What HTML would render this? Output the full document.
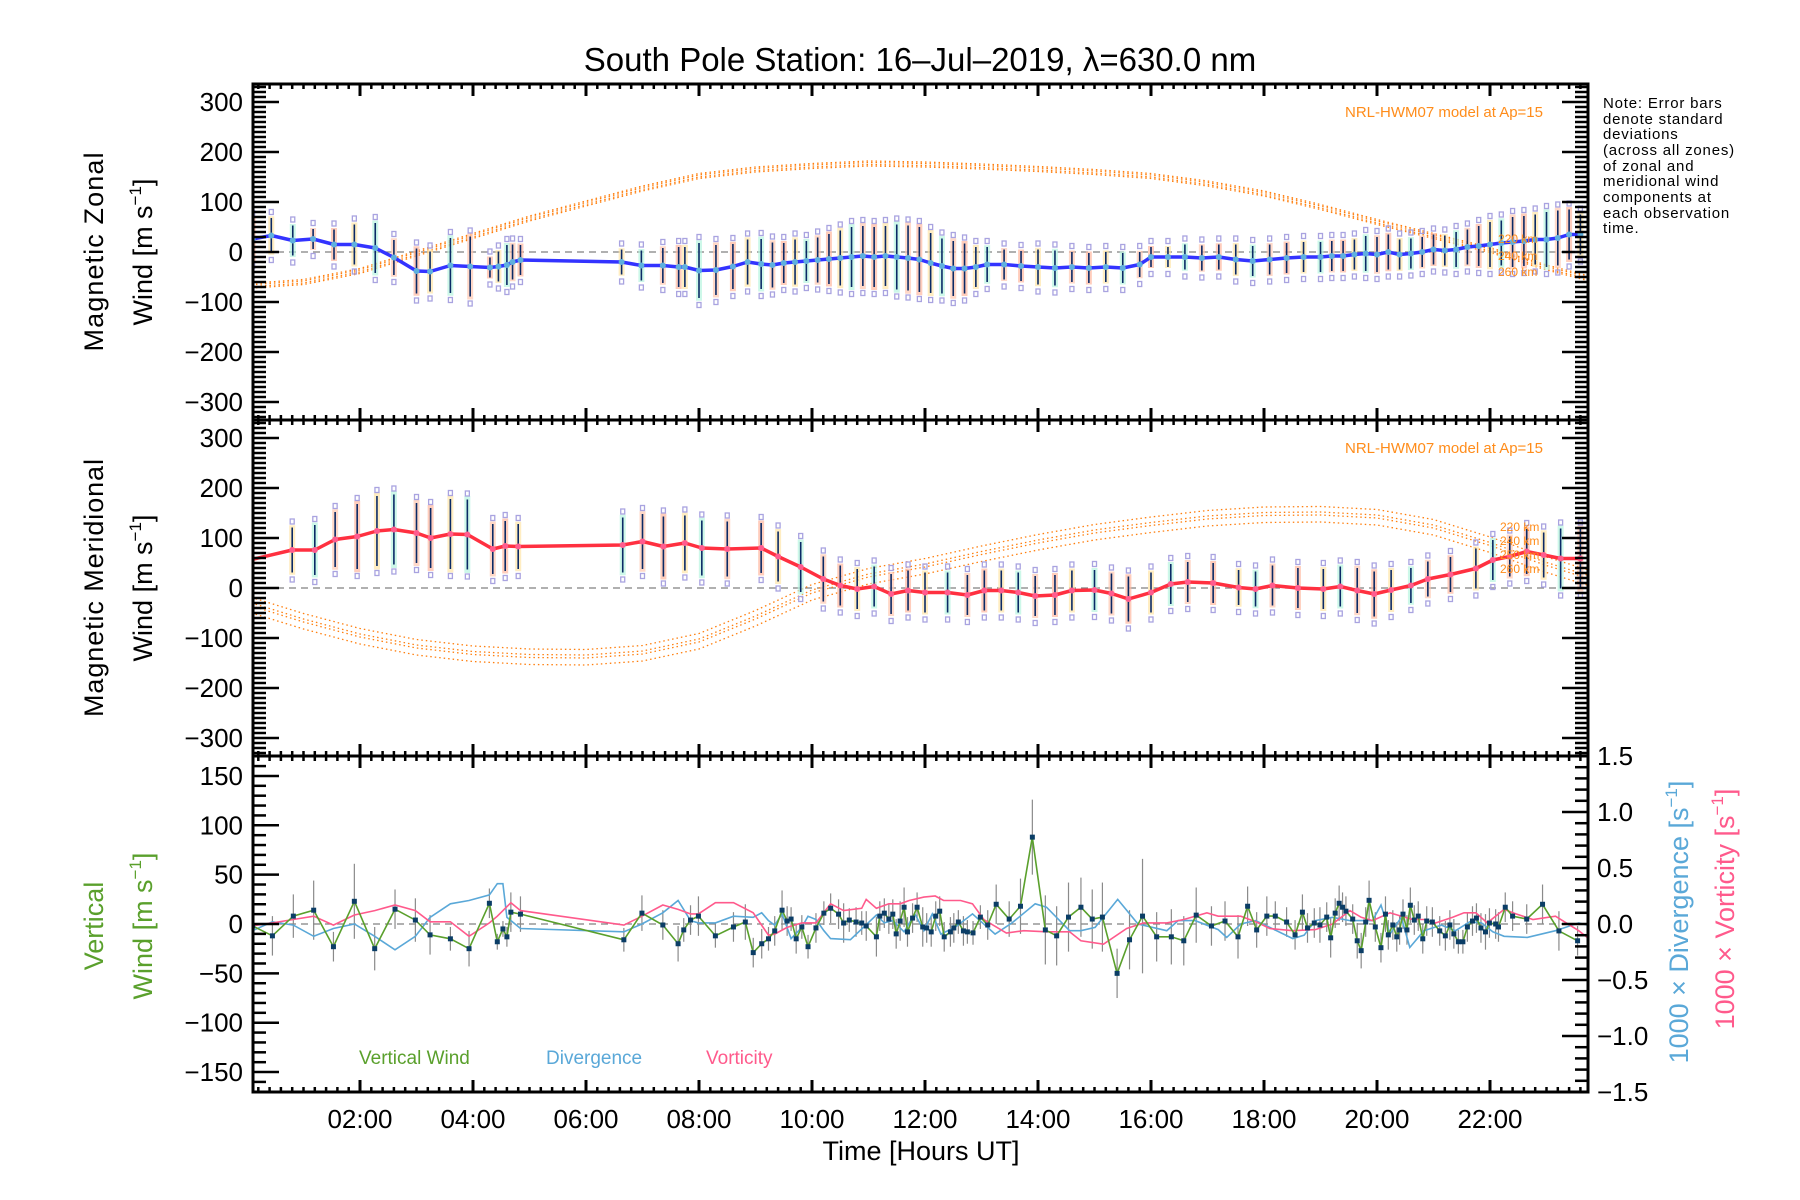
<!DOCTYPE html>
<html><head><meta charset="utf-8"><title>South Pole Station winds</title>
<style>
html,body{margin:0;padding:0;background:#fff;}
svg{display:block;font-family:"Liberation Sans",sans-serif;}
</style></head>
<body>
<svg id="chart" width="1800" height="1200" viewBox="0 0 1800 1200" xmlns="http://www.w3.org/2000/svg">
<rect x="0" y="0" width="1800" height="1200" fill="#fff"/>
<text x="920" y="71" font-size="33" text-anchor="middle" fill="#000">South Pole Station: 16–Jul–2019, λ=630.0 nm</text>

<g id="p1"></g>
<g id="p2"></g>
<g id="p3"></g>
<g id="axes"></g>

<text transform="translate(103,252) rotate(-90)" font-size="27" text-anchor="middle" textLength="199" lengthAdjust="spacing">Magnetic Zonal</text>
<text transform="translate(152,252) rotate(-90)" font-size="27" text-anchor="middle">Wind [m s<tspan font-size="17" dy="-11">−1</tspan><tspan dy="11">]</tspan></text>
<text transform="translate(103,588) rotate(-90)" font-size="27" text-anchor="middle" textLength="258" lengthAdjust="spacing">Magnetic Meridional</text>
<text transform="translate(152,588) rotate(-90)" font-size="27" text-anchor="middle">Wind [m s<tspan font-size="17" dy="-11">−1</tspan><tspan dy="11">]</tspan></text>
<text transform="translate(103,926) rotate(-90)" font-size="27" text-anchor="middle" fill="#5aa02c">Vertical</text>
<text transform="translate(152,926) rotate(-90)" font-size="27" text-anchor="middle" fill="#5aa02c">Wind [m s<tspan font-size="17" dy="-11">−1</tspan><tspan dy="11">]</tspan></text>
<text transform="translate(1688,922) rotate(-90)" font-size="27" text-anchor="middle" fill="#5aa8d8">1000 × Divergence [s<tspan font-size="17" dy="-11">−1</tspan><tspan dy="11">]</tspan></text>
<text transform="translate(1734,909) rotate(-90)" font-size="27" text-anchor="middle" fill="#ff5a8c">1000 × Vorticity [s<tspan font-size="17" dy="-11">−1</tspan><tspan dy="11">]</tspan></text>
<text x="921" y="1160" font-size="27" text-anchor="middle">Time [Hours UT]</text>

<text x="1543" y="117" font-size="15" text-anchor="end" fill="#ff8c1a">NRL-HWM07 model at Ap=15</text>
<text x="1543" y="453" font-size="15" text-anchor="end" fill="#ff8c1a">NRL-HWM07 model at Ap=15</text>
<g font-size="12" fill="#ff8c1a">
<text x="1498" y="243">220 km</text><text x="1498" y="260">240 km</text><text x="1498" y="276">260 km</text></g>
<g font-size="12" fill="#ff8c1a">
<text x="1500" y="531">220 km</text><text x="1500" y="545">240 km</text><text x="1500" y="559">250 km</text><text x="1500" y="573">260 km</text></g>

<g font-size="15" letter-spacing="0.8" fill="#000">
<text x="1603" y="108">Note: Error bars</text>
<text x="1603" y="124">denote standard</text>
<text x="1603" y="139">deviations</text>
<text x="1603" y="155">(across all zones)</text>
<text x="1603" y="171">of zonal and</text>
<text x="1603" y="186">meridional wind</text>
<text x="1603" y="202">components at</text>
<text x="1603" y="218">each observation</text>
<text x="1603" y="233">time.</text>
</g>

<text x="359" y="1064" font-size="19" fill="#5aa02c">Vertical Wind</text>
<text x="546" y="1064" font-size="19" fill="#5aa8d8">Divergence</text>
<text x="706" y="1064" font-size="19" fill="#ff5a8c">Vorticity</text>
</svg>
<script>
// ---------- data ----------
const X_TICK_HOURS = [2,4,6,8,10,12,14,16,18,20,22];
const X_TICK_LABELS = ["02:00","04:00","06:00","08:00","10:00","12:00","14:00","16:00","18:00","20:00","22:00"];
const WIND_TICKS = [300,200,100,0,-100,-200,-300];
const VERT_TICKS = [150,100,50,0,-50,-100,-150];
const DIV_TICKS = [1.5,1.0,0.5,0.0,-0.5,-1.0,-1.5];
const DIV_TICK_LABELS = ["1.5","1.0","0.5","0.0","−0.5","−1.0","−1.5"];

const ZONAL_T = [0.10,0.43,0.81,1.17,1.54,1.90,2.27,2.60,3.00,3.24,
 3.60,3.95,4.30,4.45,4.60,4.70,4.84,6.63,6.98,7.36,
 7.64,7.75,8.00,8.30,8.60,8.86,9.10,9.30,9.50,9.70,
 9.90,10.1,10.3,10.5,10.7,10.9,11.1,11.3,11.5,11.7,
 11.9,12.1,12.3,12.5,12.7,12.9,13.1,13.4,13.7,14.0,
 14.3,14.6,14.9,15.2,15.5,15.8,16.0,16.3,16.6,16.9,
 17.2,17.5,17.8,18.1,18.4,18.7,19.0,19.2,19.4,19.6,
 19.8,20.0,20.2,20.4,20.6,20.8,21.0,21.2,21.4,21.6,
 21.8,22.0,22.2,22.4,22.6,22.8,23.0,23.2,23.4,23.6];
const ZONAL_V = [26,33,23,26,15,15,8,-11,-38,-39,
 -27,-29,-31,-29,-26,-20,-16,-20,-27,-27,
 -30,-30,-37,-36,-29,-20,-24,-26,-22,-20,
 -18,-16,-14,-12,-10,-8,-10,-8,-10,-12,
 -15,-22,-28,-33,-33,-30,-25,-25,-28,-30,
 -32,-30,-32,-30,-32,-25,-10,-10,-10,-12,
 -10,-15,-18,-15,-12,-10,-10,-8,-8,-5,
 -3,-5,0,-5,-3,0,5,3,5,10,
 12,15,18,20,22,25,25,28,35,35];
const ZONAL_E = [40,35,30,20,30,40,50,35,45,40,
 55,60,20,30,40,35,30,25,30,35,
 40,40,55,50,45,45,50,45,40,45,
 40,45,50,55,60,60,60,60,65,65,
 65,60,55,55,50,40,35,30,30,35,
 35,30,30,30,30,25,20,20,25,25,
 25,30,30,30,30,30,30,30,30,30,
 35,35,35,30,30,30,30,30,35,35,
 40,45,45,50,50,50,55,55,50,40];

const MERID_T = [0.05,0.80,1.20,1.56,1.95,2.30,2.60,3.00,3.25,3.60,
 3.90,4.35,4.57,4.80,6.65,7.00,7.37,7.75,8.05,
 8.50,9.10,9.40,9.80,10.2,10.5,10.8,11.1,11.4,11.7,
 12.0,12.4,12.75,13.05,13.35,13.65,13.95,14.3,14.6,15.0,
 15.3,15.6,16.0,16.35,16.65,17.1,17.55,17.85,18.15,18.6,
 19.05,19.35,19.65,19.95,20.25,20.6,20.9,21.3,21.75,22.05,
 22.35,22.65,22.95,23.25,23.6];
const MERID_V = [56,76,76,97,103,114,117,110,100,108,
 107,78,84,83,86,93,83,90,80,
 78,80,63,42,18,5,-2,3,-12,-5,
 -9,-9,-14,-5,-5,-9,-16,-14,-5,-4,
 -11,-22,-9,8,12,10,1,-2,5,0,
 -2,3,-5,-12,-4,5,18,27,39,56,
 63,73,66,59,59];
const MERID_E = [50,45,50,55,65,70,70,60,60,70,
 70,50,50,45,55,55,60,55,55,
 55,50,50,50,45,40,40,40,40,40,
 40,40,40,40,40,40,40,40,40,40,
 40,45,40,40,40,40,35,35,40,40,
 40,40,45,45,40,35,35,35,40,40,
 40,45,45,60,60];

const MODEL_HOURS = [0,1,2,3,4,5,6,7,8,9,10,11,12,13,14,15,16,17,18,19,20,21,22,23,24];
const ZONAL_MODEL = [-70,-62,-40,-5,30,65,95,125,150,163,170,175,173,169,164,158,150,135,115,88,58,30,2,-33,-62];
const ZONAL_MODEL_OFFSETS = [0,4,7,-3];
const MERID_MODEL = [-33,-68,-98,-120,-133,-139,-140,-132,-108,-62,-10,22,42,67,90,110,125,138,145,146,140,120,85,45,10];
const MERID_MODEL_OFFSETS = [17,0,-14,6];

const VW_T = [0.10,0.45,0.82,1.18,1.53,1.90,2.26,2.62,2.98,3.24,3.60,
 3.93,4.29,4.43,4.53,4.60,4.67,4.84,6.67,6.99,7.36,
 7.63,7.73,7.85,7.99,8.29,8.61,8.82,8.96,9.11,9.23,
 9.34,9.47,9.56,9.63,9.72,9.82,9.93,10.07,10.21,10.33,
 10.47,10.56,10.66,10.78,10.88,10.96,11.14,11.20,11.28,11.36,
 11.43,11.49,11.56,11.63,11.69,11.78,11.86,11.96,12.03,12.11,
 12.19,12.26,12.34,12.45,12.51,12.59,12.68,12.75,12.85,12.98,
 13.11,13.26,13.49,13.69,13.90,14.13,14.33,14.54,14.76,14.96,
 15.14,15.40,15.62,15.85,16.10,16.36,16.58,16.80,17.07,17.31,
 17.54,17.71,17.87,18.05,18.20,18.40,18.55,18.68,18.77,18.89,
 18.99,19.11,19.18,19.26,19.33,19.39,19.45,19.57,19.65,19.72,
 19.80,19.86,19.97,20.07,20.15,20.20,20.28,20.35,20.40,20.46,
 20.53,20.59,20.66,20.73,20.81,20.88,20.98,21.11,21.21,21.29,
 21.36,21.44,21.52,21.60,21.69,21.76,21.84,21.92,21.99,22.10,
 22.15,22.27,22.40,22.65,22.93,23.22,23.55];
const VW_V = [-2,-12,8,14,-23,23,-25,15,4,-11,-15,
 -25,21,-18,-5,-13,12,10,-16,11,-1,
 -20,-6,4,8,-12,-3,2,-29,-20,-15,
 -7,14,3,5,-15,-3,-23,-4,11,16,
 10,1,4,2,1,-2,-13,8,11,5,
 10,-10,3,17,-8,6,17,-3,-4,-8,
 8,13,-13,-8,-4,2,-7,-8,-9,7,
 -1,20,5,18,88,-6,-12,7,17,5,
 7,-50,-16,8,-13,-13,-17,9,-2,3,
 -13,18,-6,8,8,2,-11,12,-4,1,
 -1,7,-14,11,21,17,13,5,-17,-27,
 2,24,-3,-24,10,-11,-1,-13,-6,10,
 -6,19,4,8,-15,3,2,-7,-12,-1,
 -10,-18,-18,-3,3,6,-4,-8,1,0,
 -3,17,8,5,20,-7,-17];
const VW_E = [0,20,22,30,15,38,22,20,22,20,12,
 18,15,8,8,10,20,18,12,18,15,
 18,12,15,20,12,15,18,15,15,12,
 15,20,15,12,15,12,12,15,12,15,
 15,20,12,15,12,15,20,15,15,15,
 15,15,20,20,15,15,15,20,15,15,
 15,15,15,15,15,12,15,12,12,12,
 15,20,18,28,38,35,30,35,30,30,
 35,25,30,58,25,28,25,28,20,20,
 22,20,18,20,15,15,15,18,15,15,
 18,15,20,15,18,15,15,15,18,18,
 15,20,15,15,18,15,15,15,15,15,
 15,18,15,15,15,15,15,15,15,15,
 15,12,12,15,15,15,15,18,15,15,
 15,15,15,15,20,20,15];

const DIV_T = [0.05,0.45,0.82,1.18,1.53,1.90,2.26,2.62,2.98,3.24,3.60,3.93,4.29,4.43,4.53,4.60,4.84,6.67,6.99,7.36,7.63,7.85,7.99,8.29,8.61,8.96,9.11,9.23,9.34,9.47,9.63,9.82,9.93,10.07,10.21,10.33,10.68,11.14,11.28,11.43,11.63,11.82,11.98,12.13,12.28,12.53,12.84,13.24,13.54,13.95,14.15,14.56,14.76,15.01,15.41,15.77,16.28,16.48,16.78,17.19,17.34,17.59,17.85,18.10,18.51,18.71,18.91,19.21,19.52,19.92,20.07,20.23,20.43,20.58,20.83,21.14,21.39,21.64,21.85,22.05,22.25,22.66,23.16,23.57,23.72];
const DIV_V = [-0.07,0.02,-0.01,-0.11,-0.04,0,-0.11,-0.23,-0.11,0.06,0.18,0.21,0.26,0.36,0.36,0.06,-0.04,-0.07,0,0.10,0.21,0.03,0.01,0.01,0.07,0.06,0.10,0.03,-0.01,0.09,-0.13,-0.03,0.07,0.04,-0.06,-0.13,-0.14,0.08,0.01,0.03,-0.07,0.09,-0.06,0.09,-0.09,-0.03,0.09,-0.09,0.01,0.18,0.15,-0.06,-0.06,-0.03,0.22,0,-0.06,0.03,0.03,-0.05,-0.12,0,0.03,-0.03,-0.13,-0.10,0.03,0.06,0.03,0.03,0.17,-0.09,0.06,-0.21,-0.06,-0.01,-0.06,0.02,0.01,-0.07,-0.11,-0.12,-0.06,0.01,-0.01];
const VORT_T = [0.05,0.45,0.82,1.18,1.53,1.90,2.26,2.62,2.98,3.24,3.60,3.93,4.29,4.43,4.67,4.84,6.67,6.99,7.36,7.63,7.85,7.99,8.29,8.61,8.96,9.23,9.34,9.56,9.82,10.07,10.33,10.56,10.88,10.96,11.14,11.36,11.56,11.72,11.98,12.18,12.33,12.48,12.63,12.84,13.04,13.44,13.75,14.15,14.56,14.76,15.16,15.57,15.87,16.28,16.58,16.99,17.19,17.59,17.90,18.10,18.51,18.91,19.21,19.52,19.72,19.92,20.23,20.43,20.63,20.83,21.04,21.34,21.54,21.75,21.95,22.25,22.46,22.76,23.16,23.57,23.72];
const VORT_V = [-0.02,0.01,0.04,0.07,-0.01,0.08,0.12,0.17,0.12,0.02,0.02,-0.11,0.01,0.07,0.19,0.12,-0.01,0.07,0.17,0.13,0.09,0.09,0.19,0.19,0.10,-0.10,-0.09,-0.03,0.01,0.01,0.18,0.12,0.14,0.22,0.14,0.18,0.18,0.21,0.24,0.25,0.21,0.21,0.21,0.18,0.04,-0.08,-0.06,-0.07,-0.07,-0.15,-0.18,-0.04,0.01,0.01,0.04,0.10,0.07,0.07,0.01,-0.04,-0.06,-0.05,0,0.12,0.06,0.03,0.10,0.07,0.04,0.04,0.01,0.06,0.10,0.10,0.01,0.13,0.09,0.04,0.07,-0.06,-0.12];

// ---------- geometry ----------
const NS = "http://www.w3.org/2000/svg";
const LEFT = 253, RIGHT = 1588;
const PANELS = [{top:84,bot:420},{top:420,bot:756},{top:756,bot:1092}];
function xs(h){ return 247 + 56.5*h; }
function ysWind(p, v){ const c=(PANELS[p].top+PANELS[p].bot)/2; return c - 0.5*v; }
function ysVert(v){ return 924 - 0.987*v; }
function ysDiv(v){ return 924 - 112*v; }
function mk(tag, attrs, parent){
  const e=document.createElementNS(NS,tag);
  for(const k in attrs) e.setAttribute(k,attrs[k]);
  parent.appendChild(e); return e;
}
const axes=document.getElementById('axes');

const defs=mk('defs',{},document.getElementById('chart'));
PANELS.forEach((p,i)=>{
  const cp=mk('clipPath',{id:'clip'+i},defs);
  mk('rect',{x:LEFT,y:p.top,width:RIGHT-LEFT,height:p.bot-p.top},cp);
});

// ---------- wind panels ----------
const PALE = ["#ffb8a0","#ffe6a8","#b8f5e0","#ffc8b0"];
function windPanel(pi, T, V, E, modelArr, offsets, lineColor, markColor, prefix){
  const g=document.getElementById('p'+(pi+1));
  const cg=mk('g',{'clip-path':'url(#clip'+pi+')'},g);
  const zl=mk('line',{x1:LEFT,x2:RIGHT,y1:ysWind(pi,0),y2:ysWind(pi,0),stroke:'#808080','stroke-width':1.3,'stroke-dasharray':'7,5'},cg);
  
  
  offsets.forEach((off,k)=>{
    let d='';
    MODEL_HOURS.forEach((h,j)=>{ d+=(j?'L':'M')+xs(h).toFixed(1)+','+ysWind(pi,modelArr[j]+off).toFixed(1); });
    const m=mk('path',{d:d,fill:'none',stroke:'#ff7f0e','stroke-width':1.3,'stroke-dasharray':'1.5,3'},cg);
    
    
  });
  T.forEach((h,i)=>{
    const r=mk('rect',{x:xs(h)-3,y:ysWind(pi,V[i]+E[i]*1.1),width:6,height:E[i]*2.2*0.5,fill:PALE[i%4],opacity:0.7},cg);
    
    
  });
  T.forEach((h,i)=>{
    [E[i]+12, -E[i]-14].forEach(dv=>{
      const s=mk('rect',{x:xs(h)-2,y:ysWind(pi,V[i]+dv)-2.5,width:4,height:5,fill:'none',stroke:'#a9a3e0','stroke-width':1.3},cg);
      
      
    });
  });
  T.forEach((h,i)=>{
    const l=mk('line',{x1:xs(h),x2:xs(h),y1:ysWind(pi,V[i]+E[i]),y2:ysWind(pi,V[i]-E[i]),stroke:'#0b2a66','stroke-width':1.6},cg);
    
    
  });
  let d='';
  T.forEach((h,i)=>{ d+=(i?'L':'M')+xs(h).toFixed(1)+','+ysWind(pi,V[i]).toFixed(1); });
  const ln=mk('path',{d:d,fill:'none',stroke:lineColor,'stroke-width':3.5,'stroke-linejoin':'round'},cg);
  
  
  T.forEach((h,i)=>{
    const c=mk('circle',{cx:xs(h),cy:ysWind(pi,V[i]),r:3,fill:markColor},cg);
    
    
  });
}
windPanel(0, ZONAL_T, ZONAL_V, ZONAL_E, ZONAL_MODEL, ZONAL_MODEL_OFFSETS, '#3333ff', '#5fb0de', 'zonal');
windPanel(1, MERID_T, MERID_V, MERID_E, MERID_MODEL, MERID_MODEL_OFFSETS, '#ff3040', '#ff5c8e', 'meridional');

// ---------- vertical panel ----------
(function(){
  const g=document.getElementById('p3');
  const cg=mk('g',{'clip-path':'url(#clip2)'},g);
  const zl=mk('line',{x1:LEFT,x2:RIGHT,y1:ysVert(0),y2:ysVert(0),stroke:'#808080','stroke-width':1.3,'stroke-dasharray':'7,5'},cg);
  
  
  VW_T.forEach((h,i)=>{
    const l=mk('line',{x1:xs(h),x2:xs(h),y1:ysVert(VW_V[i]+VW_E[i]),y2:ysVert(VW_V[i]-VW_E[i]),stroke:'#8a8a8a','stroke-width':1.2},cg);
    
    
  });
  let d='';
  DIV_T.forEach((h,i)=>{ d+=(i?'L':'M')+xs(h).toFixed(1)+','+ysDiv(DIV_V[i]).toFixed(1); });
  const dl=mk('path',{d:d,fill:'none',stroke:'#5aa8d8','stroke-width':1.6},cg);
  
  
  d='';
  VORT_T.forEach((h,i)=>{ d+=(i?'L':'M')+xs(h).toFixed(1)+','+ysDiv(VORT_V[i]).toFixed(1); });
  const vl=mk('path',{d:d,fill:'none',stroke:'#ff5a8c','stroke-width':1.6},cg);
  
  
  d='';
  VW_T.forEach((h,i)=>{ d+=(i?'L':'M')+xs(h).toFixed(1)+','+ysVert(VW_V[i]).toFixed(1); });
  const wl=mk('path',{d:d,fill:'none',stroke:'#5aa02c','stroke-width':1.6},cg);
  
  
  VW_T.forEach((h,i)=>{
    const s=mk('rect',{x:xs(h)-2.5,y:ysVert(VW_V[i])-2.5,width:5,height:5,fill:'#0b3d66'},cg);
    
    
  });
})();

// ---------- axes ----------
PANELS.forEach((p,pi)=>{
  const fr=mk('rect',{x:LEFT,y:p.top,width:RIGHT-LEFT,height:p.bot-p.top,fill:'none',stroke:'#000','stroke-width':3},axes);
  
  
  for(let k=1;k<=118;k++){
    const h=k*0.2; const x=xs(h);
    if(x<=LEFT+1||x>=RIGHT-1) continue;
    const major=Math.abs(h/2-Math.round(h/2))<1e-6;
    const len=major?12:5;
    mk('line',{x1:x,x2:x,y1:p.top,y2:p.top+len,stroke:'#000','stroke-width':major?3:2.5},axes);
    mk('line',{x1:x,x2:x,y1:p.bot,y2:p.bot-len,stroke:'#000','stroke-width':major?3:2.5},axes);
  }
  if(pi<2){
    for(let v=-340; v<=340; v+=10){
      const y=ysWind(pi,v); if(y<=p.top+1||y>=p.bot-1) continue;
      const major=v%100===0; const len=major?26:13;
      mk('line',{x1:LEFT,x2:LEFT+len,y1:y,y2:y,stroke:'#000','stroke-width':2.5},axes);
      mk('line',{x1:RIGHT,x2:RIGHT-len,y1:y,y2:y,stroke:'#000','stroke-width':2.5},axes);
    }
    WIND_TICKS.forEach(v=>{
      const t=mk('text',{x:243,y:ysWind(pi,v)+9,'font-size':26,'text-anchor':'end'},axes);
      t.textContent=(v<0?'−':'')+Math.abs(v);
      
      
    });
  } else {
    for(let v=-160; v<=160; v+=10){
      const y=ysVert(v); if(y<=p.top+1||y>=p.bot-1) continue;
      const major=v%50===0; const len=major?26:13;
      mk('line',{x1:LEFT,x2:LEFT+len,y1:y,y2:y,stroke:'#000','stroke-width':2.5},axes);
    }
    for(let k=-15;k<=15;k++){
      const v=k/10; const y=ysDiv(v); if(y<=p.top+1||y>=p.bot-1) continue;
      const major=k%5===0; const len=major?26:13;
      mk('line',{x1:RIGHT,x2:RIGHT-len,y1:y,y2:y,stroke:'#000','stroke-width':2.5},axes);
    }
    VERT_TICKS.forEach(v=>{
      const t=mk('text',{x:243,y:ysVert(v)+9,'font-size':26,'text-anchor':'end'},axes);
      t.textContent=(v<0?'−':'')+Math.abs(v);
      
      
    });
    DIV_TICKS.forEach((v,i)=>{
      const t=mk('text',{x:1597,y:ysDiv(v)+9,'font-size':26,'text-anchor':'start'},axes);
      t.textContent=DIV_TICK_LABELS[i];
      
      
    });
  }
});
X_TICK_HOURS.forEach((h,i)=>{
  const t=mk('text',{x:xs(h),y:1128,'font-size':26,'text-anchor':'middle'},axes);
  t.textContent=X_TICK_LABELS[i];
  
  
});
</script>
</body></html>
